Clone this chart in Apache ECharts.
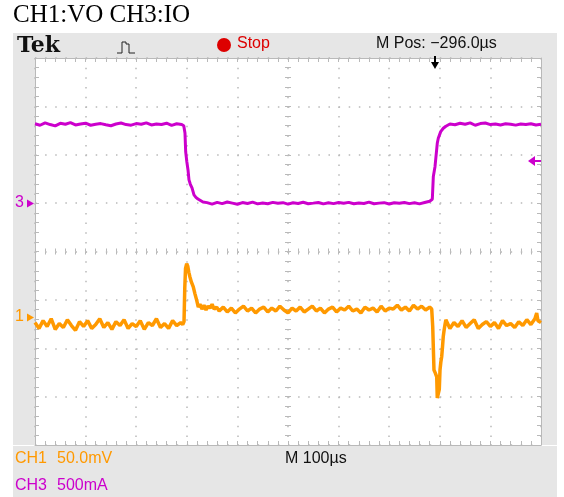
<!DOCTYPE html>
<html>
<head>
<meta charset="utf-8">
<script src="https://cdn.jsdelivr.net/npm/echarts@6/dist/echarts.min.js"></script>
<style>
html,body{margin:0;padding:0;background:#fff;}
#c{width:564px;height:497px;}
</style>
</head>
<body>
<div id="c"></div>
<script>
// ---- DATA (time in µs from left edge of screen, 100 µs/div) ----
const titleText = "CH1:VO CH3:IO";
const headerTexts = { tek: "Tek", stop: "Stop", mpos: "M Pos: \u2212296.0\u00b5s", mscale: "M 100\u00b5s" };
const ch1Label = ["CH1", "50.0mV"];
const ch3Label = ["CH3", "500mA"];

// CH3 : IO  (mA, magenta)
const ch3Trace = [
 [0,820],[10,805],[20,830],[30,812],[40,798],[50,825],[60,815],[70,832],[80,808],[90,818],
 [100,826],[110,805],[120,815],[130,822],[140,810],[150,800],[160,818],[170,828],[180,812],[190,806],
 [200,822],[210,815],[220,830],[230,808],[240,818],[250,812],[260,826],[270,804],[280,820],[290,812],
 [294,800],[296.4,725],[297.8,529],[300,430],[302.4,343],[304.3,240],[307,195],[310.3,157],[314.2,85],
 [318,60],[322.1,43],[326,25],[332,12],
 [340,5],[350,-10],[360,8],[370,-5],[380,12],[390,0],[400,-12],[410,6],[420,-4],[430,10],
 [440,-8],[450,2],[460,-6],[470,8],[480,-2],[490,5],[500,-10],[510,4],[520,-3],[530,9],
 [540,-6],[550,0],[560,7],[570,-8],[580,3],[590,-5],[600,6],[610,-2],[620,8],[630,-7],
 [640,2],[650,-4],[660,10],[670,-6],[680,0],[690,5],[700,-9],[710,4],[720,-2],[730,7],
 [740,-5],[750,3],[760,-8],[770,6],[780,20],
 [785.2,40],[787.2,274],[790.5,377],[795.1,622],[797,670],[801.8,739],[806.9,774],[812,795],[820,818],
 [830,810],[840,826],[850,815],[860,830],[870,805],[880,822],[890,828],[900,812],[910,818],[920,808],
 [930,820],[940,815],[950,806],[960,818],[970,812],[980,820],[990,808],[1000,815]
];

// CH1 : VO  (mV, orange)
const ch1Trace = [
 [0,-6],[8,-12],[16,-4],[24,-10],[32,-2],[40,-13],[48,-7],[56,-11],[64,-3],[72,-9],
 [80,-14],[88,-5],[96,-10],[104,-4],[112,-12],[120,-8],[128,-2],[136,-11],[144,-6],[152,-13],
 [160,-5],[168,-9],[176,-3],[184,-12],[192,-7],[200,-10],[208,-4],[216,-13],[224,-6],[232,-9],
 [240,-2],[248,-11],[256,-7],[264,-12],[272,-4],[280,-9],[288,-6],
 [292,-8],[294.5,-5],[296,30],[297.5,50],[299.8,55],[302,52],[304,46],[306.3,41],[309,36],
 [312.8,31],[316,24],[319.6,17],[322.7,10],[326,13],[330,8],[334,12],[338,7],[342,11],[346,9],
 [350,13],[354,8],[359,10],
 [364,6],[372,10],[380,5],[388,9],[396,4],[404,8],[412,11],[420,6],[428,9],[436,4],
 [444,8],[452,10],[460,5],[468,9],[476,6],[484,11],[492,7],[500,4],[508,9],[516,6],
 [524,10],[532,5],[540,8],[548,11],[556,6],[564,9],[572,4],[580,8],[588,10],[596,5],
 [604,9],[612,7],[620,11],[628,6],[636,8],[644,4],[652,10],[660,7],[668,9],[676,5],
 [684,11],[692,6],[700,9],[708,8],[716,12],[724,7],[732,10],[740,6],[748,12],[756,8],
 [764,11],[772,7],[780,10],[784,8],
 [786,-10],[788.5,-55],[791,-58],[793.9,-62],[795,-84],[796.4,-85],[798,-84],[799,-75],[800.4,-55],
 [802,-47],[803.8,-41],[805.5,-30],[806.9,-20],[808.5,-14],[810.3,-8],[812,-3],[813.6,-5],
 [820,-12],[828,-6],[836,-10],[844,-4],[852,-11],[860,-7],[868,-3],[876,-12],[884,-8],[892,-5],
 [900,-10],[908,-6],[916,-12],[924,-4],[932,-9],[940,-7],[948,-11],[956,-5],[964,-9],[972,-3],
 [980,-8],[988,-2],[991.5,4],[994,-4],[1000,-6]
];

// screen: 10 x 8 divisions
const timeRange = [0, 1000];          // µs
const ch3Range = [-2500, 1500];       // mA (500 mA/div, ground 1 div above centre)
const ch1Range = [-132.5, 267.5];     // mV (50 mV/div, ground 1.35 div below centre)
const divX = [-5, 5];
const divY = [-4, 4];

// ---- STYLE ----
const MAG = '#cc00cc', ORA = '#ff9900', GRID = '#b9b9b9', FRAME = '#e6e6e6';
const L = 35, T = 58, R = 541, B = 445;

const chart = echarts.init(document.getElementById('c'), null, { renderer: 'canvas' });

function borderAxis(extra) {
  return Object.assign({
    type: 'value', gridIndex: 0, interval: 1, silent: true,
    axisLine: { show: true, onZero: false, lineStyle: { color: GRID, width: 1 } },
    axisTick: { show: true, inside: true, length: 4, lineStyle: { color: GRID } },
    minorTick: { show: true, splitNumber: 5, length: 4, lineStyle: { color: GRID } },
    axisLabel: { show: false },
    splitLine: { show: false }
  }, extra);
}
function centerAxis(extra, inside, zeroIdx) {
  return Object.assign({
    type: 'value', gridIndex: 0, interval: 1, silent: true,
    axisLine: { show: false, onZero: true, onZeroAxisIndex: zeroIdx },
    axisTick: { show: true, inside: inside, length: 3, lineStyle: { color: GRID } },
    minorTick: { show: true, splitNumber: 5, length: 3, lineStyle: { color: GRID } },
    axisLabel: { show: false },
    splitLine: { show: false }
  }, extra);
}

const option = {
  animation: false,
  backgroundColor: '#ffffff',
  grid: { left: L, top: T, right: 564 - R, bottom: 497 - B, containLabel: false },
  xAxis: [
    { type: 'value', min: timeRange[0], max: timeRange[1], show: false },
    borderAxis({ min: divX[0], max: divX[1], position: 'bottom',
      splitLine: { show: true, lineStyle: { color: GRID, width: 1.5, type: [1.5, 8.18] } } }),
    borderAxis({ min: divX[0], max: divX[1], position: 'top' }),
    centerAxis({ min: divX[0], max: divX[1], position: 'bottom' }, false, 2),
    centerAxis({ min: divX[0], max: divX[1], position: 'bottom' }, true, 2)
  ],
  yAxis: [
    { type: 'value', min: ch3Range[0], max: ch3Range[1], show: false },
    { type: 'value', min: ch1Range[0], max: ch1Range[1], show: false },
    borderAxis({ min: divY[0], max: divY[1], position: 'left',
      splitLine: { show: true, lineStyle: { color: GRID, width: 1.5, type: [1.5, 8.62] } } }),
    borderAxis({ min: divY[0], max: divY[1], position: 'right' }),
    centerAxis({ min: divY[0], max: divY[1], position: 'left' }, false, 1),
    centerAxis({ min: divY[0], max: divY[1], position: 'left' }, true, 1)
  ],
  series: [
    { name: 'CH3:IO', type: 'line', xAxisIndex: 0, yAxisIndex: 0, data: ch3Trace,
      symbol: 'none', lineStyle: { color: MAG, width: 3 }, z: 5 },
    { name: 'CH1:VO', type: 'line', xAxisIndex: 0, yAxisIndex: 1, data: ch1Trace,
      symbol: 'none', lineStyle: { color: ORA, width: 3.5 }, z: 5 }
  ],
  graphic: [
    // scope frame
    { type: 'rect', shape: { x: 13, y: 33, width: 544, height: T - 33 }, style: { fill: FRAME }, silent: true },
    { type: 'rect', shape: { x: 13, y: T, width: L - 13, height: B - T }, style: { fill: FRAME }, silent: true },
    { type: 'rect', shape: { x: R + 1, y: T, width: 557 - R - 1, height: B - T }, style: { fill: FRAME }, silent: true },
    { type: 'rect', shape: { x: 13, y: B + 1, width: 544, height: 497 - B - 1 }, style: { fill: FRAME }, silent: true },
    // title
    { type: 'text', x: 13, y: 3, style: { text: titleText, fill: '#000', font: '25px "Liberation Serif"' } },
    // header
    { type: 'text', x: 17, y: 35, style: { text: headerTexts.tek, fill: '#111', font: 'bold 22px "DejaVu Serif"' } },
    { type: 'polyline', shape: { points: [[117,53],[122,53],[122,42],[126,42],[126,44],[129,44],[129,53],[135,53]] },
      style: { stroke: '#222', lineWidth: 1, fill: null } },
    { type: 'circle', shape: { cx: 224, cy: 45, r: 7 }, style: { fill: '#dd0000' } },
    { type: 'text', x: 237, y: 36, style: { text: headerTexts.stop, fill: '#dd0000', font: '16px "Liberation Sans"' } },
    { type: 'text', x: 376, y: 36, style: { text: headerTexts.mpos, fill: '#111', font: '16px "Liberation Sans"' } },
    // trigger position arrow
    { type: 'polyline', shape: { points: [[435,56],[435,64]] }, style: { stroke: '#000', lineWidth: 2 }, z: 20 },
    { type: 'polygon', shape: { points: [[431,62],[439,62],[435,69]] }, style: { fill: '#000' }, z: 20 },
    // trigger level arrow (CH3)
    { type: 'polygon', shape: { points: [[528,161],[535,156],[535,166]] }, style: { fill: MAG }, z: 20 },
    { type: 'polyline', shape: { points: [[533,161],[541,161]] }, style: { stroke: MAG, lineWidth: 2 }, z: 20 },
    // channel ground markers
    { type: 'text', x: 15, y: 195, style: { text: '3', fill: MAG, font: '16px "Liberation Sans"' }, z: 20 },
    { type: 'polygon', shape: { points: [[27,199.5],[34,203.5],[27,207.5]] }, style: { fill: MAG }, z: 20 },
    { type: 'text', x: 15, y: 309, style: { text: '1', fill: ORA, font: '16px "Liberation Sans"' }, z: 20 },
    { type: 'polygon', shape: { points: [[27,313.5],[34,317.5],[27,321.5]] }, style: { fill: ORA }, z: 20 },
    // bottom readouts
    { type: 'text', x: 15, y: 451, style: { text: ch1Label[0], fill: ORA, font: '16px "Liberation Sans"' } },
    { type: 'text', x: 57, y: 451, style: { text: ch1Label[1], fill: ORA, font: '16px "Liberation Sans"' } },
    { type: 'text', x: 15, y: 478, style: { text: ch3Label[0], fill: MAG, font: '16px "Liberation Sans"' } },
    { type: 'text', x: 57, y: 478, style: { text: ch3Label[1], fill: MAG, font: '16px "Liberation Sans"' } },
    { type: 'text', x: 285, y: 451, style: { text: headerTexts.mscale, fill: '#111', font: '16px "Liberation Sans"' } }
  ]
};
chart.setOption(option);
</script>
</body>
</html>
